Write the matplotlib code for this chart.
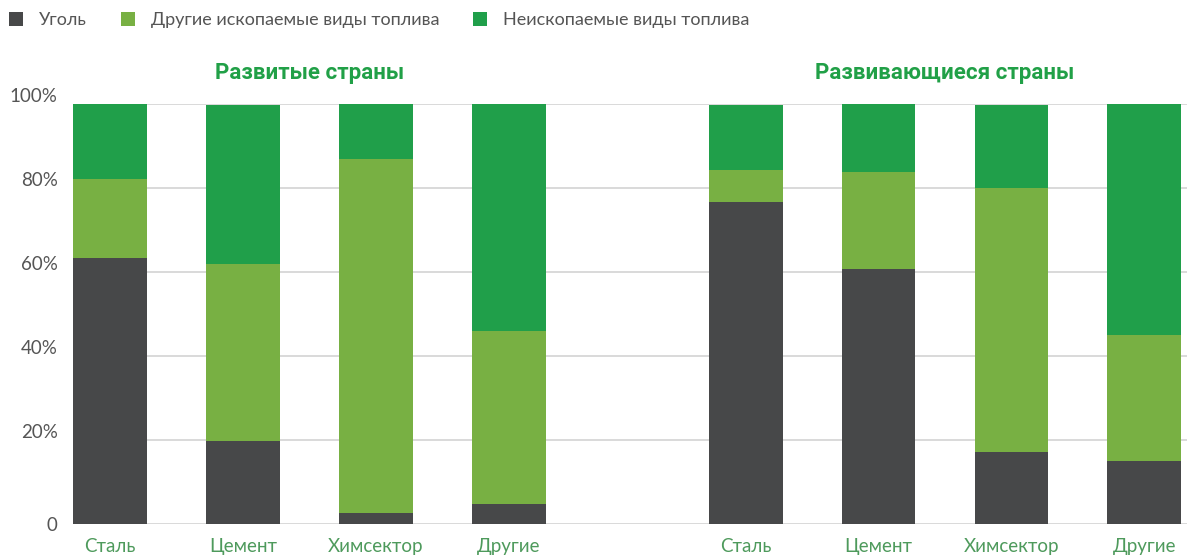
import matplotlib
matplotlib.use("Agg")
import matplotlib.pyplot as plt
from matplotlib.patches import Patch
from matplotlib.transforms import ScaledTranslation, blended_transform_factory

plt.rcParams["font.family"] = ["Lato", "DejaVu Sans"]

# shares of fuel types by sector, %
sectors = ["Сталь", "Цемент", "Химсектор", "Другие"]
groups = ["Развитые страны", "Развивающиеся страны"]

coal_dev = [63.2, 19.8, 2.5, 4.6]
other_fossil_dev = [18.9, 42.0, 84.3, 41.4]
non_fossil_dev = [17.9, 37.9, 13.2, 54.0]

coal_dvg = [76.5, 60.6, 17.0, 14.9]
other_fossil_dvg = [7.8, 23.1, 62.9, 30.0]
non_fossil_dvg = [15.4, 16.3, 19.8, 55.1]

series_names = ["Уголь", "Другие ископаемые виды топлива", "Неископаемые виды топлива"]
colors = ["#474849", "#78B043", "#209F4A"]

yticks = [0, 20, 40, 60, 80, 100]
ytick_labels = ["0", "20%", "40%", "60%", "80%", "100%"]

# x positions: two groups of four bars with a wider gap between the groups
group_offset = 4.78
bar_w = 0.556
x_dev = [i for i in range(len(sectors))]
x_dvg = [i + group_offset for i in range(len(sectors))]

fig = plt.figure(figsize=(11.87, 5.56), dpi=100)
ax = fig.add_axes([73 / 1187, 32.3 / 556, 1114 / 1187, 420 / 556])

for xs, stacks in [
    (x_dev, [coal_dev, other_fossil_dev, non_fossil_dev]),
    (x_dvg, [coal_dvg, other_fossil_dvg, non_fossil_dvg]),
]:
    bottom = [0.0] * len(xs)
    for vals, col in zip(stacks, colors):
        ax.bar(xs, vals, bar_w, bottom=bottom, color=col, zorder=3, linewidth=0)
        bottom = [b + v for b, v in zip(bottom, vals)]

ax.set_xlim(-bar_w / 2, 8.1)
ax.set_ylim(0, 100)
ax.set_yticks(yticks)
ax.set_yticklabels(ytick_labels, fontsize=13.5, color="#555555")
ax.set_xticks(x_dev + x_dvg)
ax.set_xticklabels(sectors + sectors, fontsize=13.5, color="#4E9A5C")
ax.tick_params(axis="both", length=0)
ax.tick_params(axis="x", pad=10)
ax.tick_params(axis="y", pad=11)
ax.yaxis.grid(True, color="#D9D9D9", linewidth=1.4, zorder=0)
for s in ax.spines.values():
    s.set_visible(False)

# lift non-zero y labels so they sit just above their gridlines
for lab in ax.get_yticklabels()[1:]:
    lab.set_transform(lab.get_transform() + ScaledTranslation(0, 6 / 72, fig.dpi_scale_trans))

trans = blended_transform_factory(ax.transData, ax.transAxes)
for xs, name in zip([x_dev, x_dvg], groups):
    cx = (xs[0] + xs[-1]) / 2
    ax.text(cx, 1.073, name, transform=trans, ha="center", va="center",
            fontsize=16, fontweight="bold", color="#21A047",
            family=["Roboto", "DejaVu Sans"])

handles = [Patch(facecolor=c, edgecolor="none") for c in colors]
fig.legend(handles, series_names, loc="center left",
           bbox_to_anchor=(9 / 1187, 1 - 20 / 556),
           ncol=3, frameon=False, fontsize=13, labelcolor="#555555",
           handlelength=0.78, handleheight=0.78, handletextpad=0.9,
           columnspacing=1.85, borderaxespad=0, borderpad=0)

fig.savefig("out.png", dpi=100)
